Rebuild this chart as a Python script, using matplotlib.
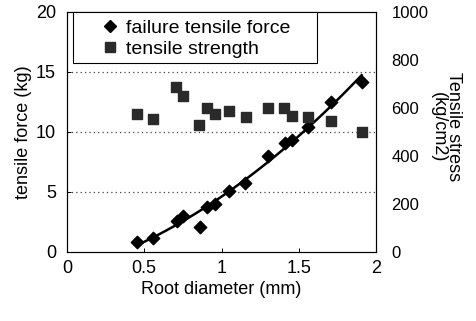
import numpy as np
import matplotlib
matplotlib.use("Agg")
import matplotlib.pyplot as plt
from matplotlib.lines import Line2D
from matplotlib.patches import Rectangle

plt.rcParams['font.family'] = ['Liberation Sans', 'DejaVu Sans']

# Data
force_diam = [0.455, 0.559, 0.71, 0.749, 0.861, 0.904, 0.958, 1.05, 1.154, 1.303, 1.411, 1.454, 1.562, 1.707, 1.907]
force_kg = [0.86, 1.19, 2.6, 3.0, 2.11, 3.72, 4.0, 5.08, 5.78, 8.0, 9.05, 9.33, 10.39, 12.53, 14.2]

stress_diam = [0.451, 0.555, 0.703, 0.749, 0.856, 0.904, 0.958, 1.05, 1.158, 1.303, 1.404, 1.454, 1.562, 1.707, 1.907]
stress_kgcm2 = [575, 554, 689, 650, 529, 601, 575, 589, 564, 599, 599, 566, 564, 546, 500]

x_ticks = [0, 0.5, 1, 1.5, 2]
x_ticklabels = ['0', '0.5', '1', '1.5', '2']
left_ticks = [0, 5, 10, 15, 20]
right_ticks = [0, 200, 400, 600, 800, 1000]

W, H = 476, 321
fig = plt.figure(figsize=(W / 100, H / 100), dpi=100)
ax = fig.add_axes([67/W, 1-252/H, (376-67)/W, (252-12)/H])
ax2 = ax.twinx()

# quadratic trend line fitted to force data
coef = np.polyfit(force_diam, force_kg, 2)
xs = np.linspace(min(force_diam), max(force_diam), 100)
ax.plot(xs, np.polyval(coef, xs), color='black', lw=1.8, zorder=3)

ax.scatter(force_diam, force_kg, marker='D', s=40, color='black', zorder=4)
ax2.scatter(stress_diam, stress_kgcm2, marker='s', s=60, color='#2a2a2a', zorder=4)

ax.set_xlim(0, 2)
ax.set_ylim(0, 20)
ax2.set_ylim(0, 1000)
ax.set_xticks(x_ticks)
ax.set_xticklabels(x_ticklabels)
ax.set_yticks(left_ticks)
ax2.set_yticks(right_ticks)

for y in [5, 10, 15]:
    ax.axhline(y, color='#444444', lw=0.9, ls=(0, (1, 2.5)), zorder=1)

fs = 13
ax.tick_params(axis='both', direction='in', length=3, width=0.7, labelsize=fs, pad=6)
ax.tick_params(axis='y', pad=8)
ax2.tick_params(axis='y', direction='in', length=0, labelsize=12, pad=11)

for a in (ax, ax2):
    for s in a.spines.values():
        s.set_linewidth(0.8)

ax.set_xlabel('Root diameter (mm)', fontsize=fs, labelpad=3)
ax.set_ylabel('tensile force (kg)', fontsize=fs, labelpad=3)
fig.text(446/W, 1-127/H, 'Tensile stress\n(kg/cm2)', fontsize=fs, rotation=-90,
         ha='center', va='center', linespacing=0.9, multialignment='center')

# legend frame
ax2.add_patch(Rectangle(((73-67)/309, (252-63)/240), 244/309, 51/240,
                        transform=ax2.transAxes, facecolor='white', edgecolor='black',
                        lw=0.8, zorder=5, clip_on=False))

handles = [
    Line2D([], [], marker='D', color='black', ls='none', markersize=6),
    Line2D([], [], marker='s', color='#2a2a2a', ls='none', markersize=7),
]
leg = ax2.legend(handles, ['failure tensile force', 'tensile strength'],
                 loc='upper left', bbox_to_anchor=(102/W, 1-19/H),
                 bbox_transform=fig.transFigure, fontsize=14,
                 frameon=False, handlelength=0.8, handletextpad=0.45,
                 borderpad=0, labelspacing=0.2, borderaxespad=0)
leg.set_zorder(6)

fig.savefig('out.png', dpi=100)
